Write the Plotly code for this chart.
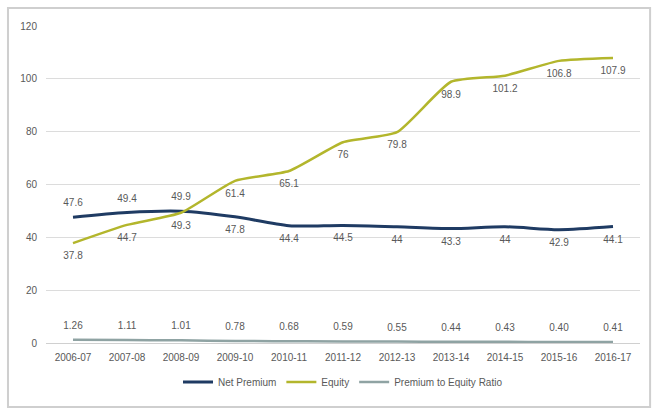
import plotly.graph_objects as go

years = ["2006-07", "2007-08", "2008-09", "2009-10", "2010-11", "2011-12",
         "2012-13", "2013-14", "2014-15", "2015-16", "2016-17"]
net_premium = [47.6, 49.4, 49.9, 47.8, 44.4, 44.5, 44, 43.3, 44, 42.9, 44.1]
equity = [37.8, 44.7, 49.3, 61.4, 65.1, 76, 79.8, 98.9, 101.2, 106.8, 107.9]
ratio = [1.26, 1.11, 1.01, 0.78, 0.68, 0.59, 0.55, 0.44, 0.43, 0.40, 0.41]
y_ticks = [0, 20, 40, 60, 80, 100, 120]

FONT = "Liberation Sans, Arial"
label_font = dict(family=FONT, size=10, color="#595959")
hidden_marker = dict(size=12, color="rgba(0,0,0,0)", line=dict(width=0))

fig = go.Figure()
fig.add_trace(go.Scatter(
    x=years, y=net_premium, name="Net Premium", mode="lines+markers+text",
    line=dict(color="#1f3b63", width=3, shape="spline", smoothing=0.8),
    marker=hidden_marker,
    text=[str(v) for v in net_premium],
    textposition=["top center"] * 3 + ["bottom center"] * 8,
    textfont=label_font, cliponaxis=False))
fig.add_trace(go.Scatter(
    x=years, y=equity, name="Equity", mode="lines+markers+text",
    line=dict(color="#b3b62c", width=2.5, shape="spline", smoothing=0.5),
    marker=hidden_marker,
    text=[("%g" % v) for v in equity],
    textposition="bottom center",
    textfont=label_font, cliponaxis=False))
fig.add_trace(go.Scatter(
    x=years, y=ratio, name="Premium to Equity Ratio", mode="lines+markers+text",
    line=dict(color="#8fa3a3", width=2.5, shape="spline"),
    marker=hidden_marker,
    text=["%.2f" % v for v in ratio],
    textposition="top center",
    textfont=label_font, cliponaxis=False))

fig.update_layout(
    width=652, height=411,
    margin=dict(l=46, r=12, t=26, b=68, autoexpand=False),
    paper_bgcolor="white", plot_bgcolor="white",
    font=dict(family=FONT, size=10, color="#595959"),
    showlegend=True,
    legend=dict(orientation="h", x=0.5, xanchor="center", y=-0.123, yanchor="middle",
                font=dict(family=FONT, size=10, color="#595959"), itemwidth=30),
    xaxis=dict(type="category", range=[-0.5, 10.5], showgrid=False,
               showline=False, ticks="", ticklabelstandoff=7,
               tickfont=dict(size=10, color="#595959")),
    yaxis=dict(range=[0, 120], tickvals=y_ticks, showgrid=True,
               gridcolor="#dcdcdc", gridwidth=1, zeroline=True,
               zerolinecolor="#d0d0d0", zerolinewidth=1, ticks="",
               ticklabelstandoff=8, tickfont=dict(size=10, color="#595959")),
    shapes=[dict(type="rect", xref="paper", yref="paper",
                 x0=-0.064, x1=1.017, y0=-0.202, y1=1.057,
                 line=dict(color="#cfcfcf", width=2), layer="below")],
)

fig.write_html("out.html")
